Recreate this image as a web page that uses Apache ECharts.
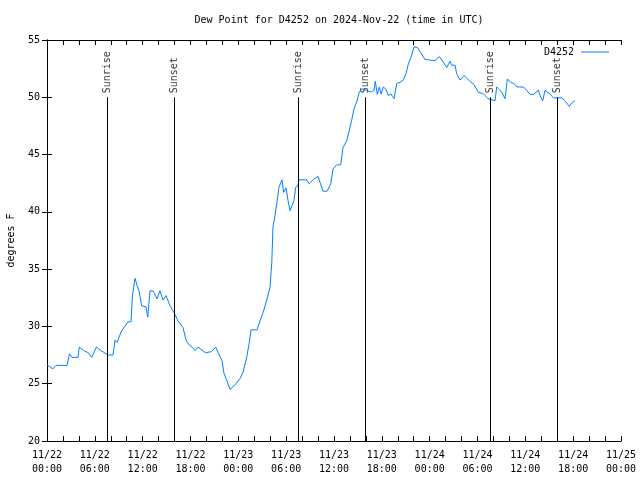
<!DOCTYPE html>
<html>
<head>
<meta charset="utf-8">
<script src="https://cdn.jsdelivr.net/npm/echarts@6/dist/echarts.min.js"></script>
<style>html,body{margin:0;padding:0;background:#fff;}#chart{width:640px;height:480px;}</style>
</head>
<body>
<div id="chart"></div>
<script>
// Hours since 2024-11-22 00:00 UTC, dew point (degrees F)
const dewPoint = [
[0,26.65],[0.75,26.3],[1.13,26.6],[2.51,26.6],[2.82,27.6],[3.14,27.3],[3.89,27.3],[4.05,28.2],
[4.58,27.9],[5.2,27.7],[5.61,27.3],[6.2,28.2],[6.77,27.9],[7.65,27.5],[8.28,27.5],[8.53,28.8],
[8.78,28.6],[9.35,29.6],[10.16,30.4],[10.54,30.4],[10.72,32.7],[11.04,34.2],[11.29,33.6],[11.54,33.1],
[11.88,31.8],[12.42,31.7],[12.63,30.8],[12.92,33.1],[13.3,33.1],[13.8,32.4],[14.17,33.1],[14.55,32.3],
[14.93,32.7],[15.43,31.8],[15.93,31.2],[16.43,30.5],[17.06,29.9],[17.44,28.8],[17.69,28.5],[18.19,28.2],
[18.57,27.9],[18.94,28.2],[19.88,27.7],[20.63,27.8],[21.16,28.2],[21.45,27.75],[21.95,27.0],[22.2,25.9],
[22.54,25.3],[22.96,24.5],[23.29,24.7],[23.71,25.0],[24.21,25.45],[24.59,26.0],[25.05,27.3],[25.4,28.7],
[25.59,29.7],[26.34,29.7],[26.72,30.5],[27.1,31.2],[27.56,32.3],[27.97,33.4],[28.19,35.5],[28.35,38.7],
[28.6,39.7],[28.81,40.7],[29.1,42.15],[29.48,42.8],[29.69,41.7],[29.98,42.1],[30.23,41.0],[30.48,40.1],
[30.82,40.7],[30.98,41.0],[31.2,42.15],[31.48,42.3],[31.61,42.8],[32.58,42.8],[32.87,42.45],[33.37,42.8],
[33.99,43.1],[34.62,41.8],[35.12,41.8],[35.59,42.45],[35.88,43.75],[36.34,44.1],[36.84,44.1],[37.13,45.6],
[37.59,46.2],[37.92,47.1],[38.22,48.0],[38.51,49.0],[38.85,49.6],[39.17,50.45],[39.48,50.74],[40.1,50.6],
[40.61,50.45],[41.02,50.6],[41.18,51.4],[41.43,50.25],[41.68,50.9],[41.9,50.3],[42.19,50.9],[42.52,50.7],
[42.81,50.15],[43.11,50.3],[43.36,50.07],[43.53,49.87],[43.87,51.2],[44.28,51.3],[44.69,51.5],[45.03,52.05],
[45.32,52.9],[45.66,53.5],[46.04,54.4],[46.45,54.35],[46.88,53.9],[47.42,53.3],[48.67,53.2],[49.21,53.55],
[49.64,53.15],[50.14,52.6],[50.55,53.15],[50.76,52.8],[51.18,52.8],[51.39,52.05],[51.81,51.5],[52.31,51.9],
[52.97,51.46],[53.56,51.1],[54.1,50.45],[54.73,50.3],[55.36,49.87],[55.57,49.7],[56.2,49.7],[56.41,50.9],
[57.04,50.45],[57.45,49.87],[57.74,51.6],[58.17,51.3],[58.58,51.2],[58.92,50.9],[59.75,50.9],[60.17,50.6],
[60.59,50.25],[61.0,50.25],[61.43,50.45],[61.63,50.65],[61.93,50.0],[62.18,49.7],[62.47,50.6],[62.76,50.45],
[63.1,50.3],[63.51,49.95],[64.56,49.95],[64.98,49.7],[65.52,49.2],[65.82,49.5],[66.23,49.7]
];
// Sun events (hours since start)
const sunEvents = [
[7.55,'Sunrise'],[15.97,'Sunset'],[31.53,'Sunrise'],[39.93,'Sunset'],[55.6,'Sunrise'],[64.0,'Sunset']
];
const xTickLabels = ['11/22\n00:00','11/22\n06:00','11/22\n12:00','11/22\n18:00','11/23\n00:00','11/23\n06:00',
'11/23\n12:00','11/23\n18:00','11/24\n00:00','11/24\n06:00','11/24\n12:00','11/24\n18:00','11/25\n00:00'];
const yTicks = [20,25,30,35,40,45,50,55];

const FONT = 'DejaVu Sans Mono';
const chart = echarts.init(document.getElementById('chart'), null, {renderer:'canvas'});
const axisBase = {
  axisLine:{show:true,lineStyle:{color:'#000',width:1}},
  axisTick:{show:true,inside:true,length:5,lineStyle:{color:'#000'}},
  splitLine:{show:false}
};
chart.setOption({
  animation:false,
  backgroundColor:'#fff',
  title:{text:'Dew Point for D4252 on 2024-Nov-22 (time in UTC)',left:334,top:10,textAlign:'center',
    textStyle:{fontFamily:FONT,fontSize:10,fontWeight:'normal',color:'#000'}},
  legend:{data:['D4252'],right:26,top:42,align:'right',icon:'rect',itemWidth:28,itemHeight:1,
    textStyle:{fontFamily:FONT,fontSize:10,color:'#000',padding:[0,2,0,0]}},
  grid:{left:47,right:19,top:40,bottom:39,containLabel:false,outerBoundsMode:'none'},
  xAxis:[
    Object.assign({type:'value',min:0,max:72,interval:2,position:'bottom',
      axisLabel:{fontFamily:FONT,fontSize:10,color:'#000',margin:7,lineHeight:14,
        formatter:v=>(v%6===0?xTickLabels[v/6]:'')}}, axisBase),
    Object.assign({type:'value',min:0,max:72,interval:2,position:'top',axisLabel:{show:false}}, axisBase)
  ],
  yAxis:[
    Object.assign({type:'value',min:yTicks[0],max:yTicks[yTicks.length-1],interval:5,position:'left',
      name:'degrees F',nameLocation:'middle',nameGap:31,nameRotate:90,
      nameTextStyle:{fontFamily:FONT,fontSize:10,color:'#000'},
      axisLabel:{fontFamily:FONT,fontSize:10,color:'#000',margin:7}}, axisBase),
    Object.assign({type:'value',min:yTicks[0],max:yTicks[yTicks.length-1],interval:5,position:'right',
      axisLabel:{show:false}}, axisBase)
  ],
  series:[
    {name:'D4252',type:'line',data:dewPoint,symbol:'none',showSymbol:false,
      lineStyle:{color:'#0080ff',width:1},itemStyle:{color:'#0080ff'},xAxisIndex:0,yAxisIndex:0,z:3},
    {name:'sun',type:'scatter',xAxisIndex:0,yAxisIndex:0,symbolSize:0,silent:true,
      data:sunEvents.map(e=>[e[0],50,e[1]]),
      label:{show:true,formatter:p=>p.data[2],position:'top',distance:4,rotate:90,align:'left',verticalAlign:'middle',
        fontFamily:FONT,fontSize:10,color:'#000'},
      markLine:{silent:true,symbol:['none','none'],animation:false,
        lineStyle:{color:'#000',width:1,type:'solid'},label:{show:false},
        data:sunEvents.map(e=>[{coord:[e[0],20]},{coord:[e[0],50]}])},
      z:2}
  ]
});
</script>
</body>
</html>
